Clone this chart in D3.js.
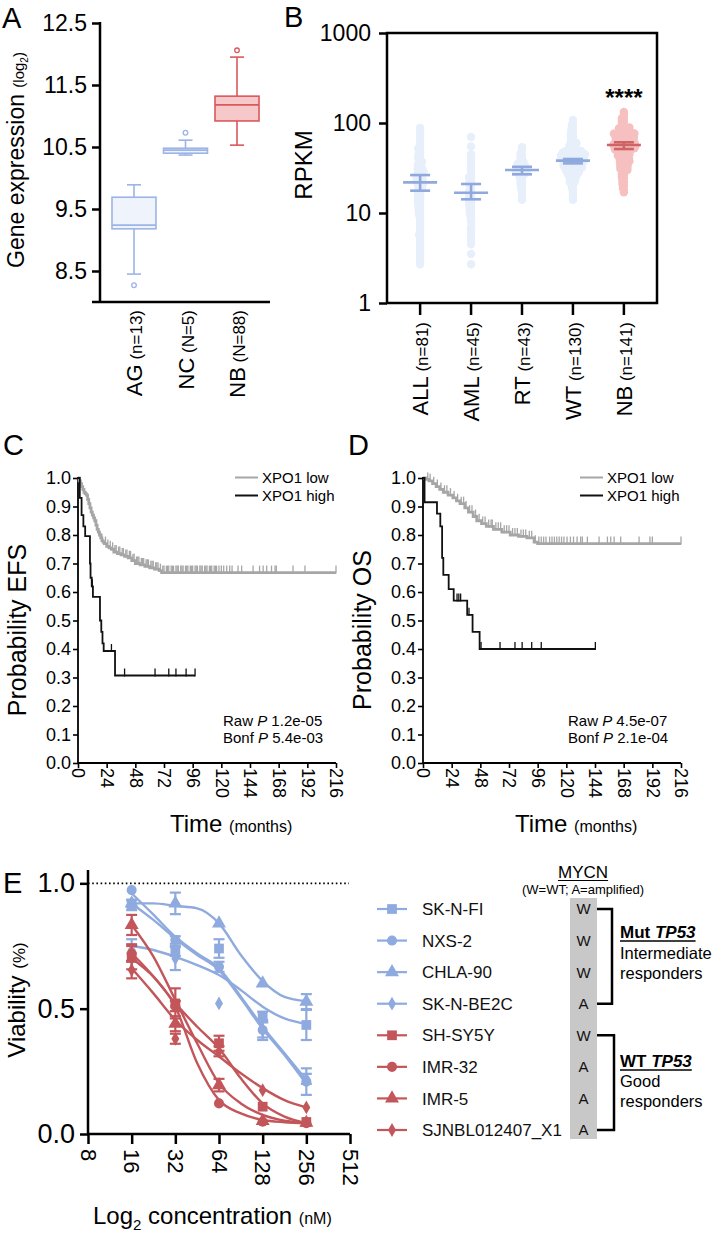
<!DOCTYPE html>
<html><head><meta charset="utf-8">
<script src="https://cdn.jsdelivr.net/npm/d3@7"></script>
<style>body{margin:0;background:#fff}svg{display:block}</style>
</head><body><svg id="c" width="719" height="1235"></svg>
<script>
// ================= DATA =================
// Panel A – box plots (log2 gene expression)
const aCats = ["AG", "NC", "NB"];
const aN = ["(n=13)", "(N=5)", "(N=88)"];
const aWhiskLow = [8.45, 10.37, 10.53];
const aQ1 = [9.18, 10.40, 10.92];
const aMedian = [9.24, 10.45, 11.18];
const aQ3 = [9.69, 10.48, 11.32];
const aWhiskHigh = [9.89, 10.61, 11.95];
const aOutliers = [[8.27], [10.73], [12.06]];
const aTicks = [8.5, 9.5, 10.5, 11.5, 12.5];

// Panel B – RPKM scatter
const bCats = ["ALL", "AML", "RT", "WT", "NB"];
const bN = ["(n=81)", "(n=45)", "(n=43)", "(n=130)", "(n=141)"];
const bMean = [21.9, 16.8, 30.0, 38.2, 57];
const bSemLow = [17.7, 14.2, 26.9, 35.6, 51.4];
const bSemHigh = [26.4, 21.0, 32.6, 39.8, 61];
const bTicks = [1, 10, 100, 1000];
const bALL = [88,80,72,65,60,56,52,50,47,45,43,41,40,38,37,36,35,34,33,32,31,30,29,28,27,26,25.5,25,24,23.5,23,22,21.5,21,20,19.5,19,18.5,18,17,16.5,16,15,14.5,14,13,12.5,12,11.5,11,10.5,10,9.5,9,8.5,8,7.5,7,6.5,6,5.7,5.4,5,4.7,4.4,4.1,3.8,3.5,3.3,3.1,2.9,2.7,26.5,24.5,22.5,20.5,17.5,15.5,13.5,28.5,30.5];
const bAML = [70,55,45,40,36,33,30,28,26,25,24,22,21,20,19,18,17.5,17,16.5,16,15.5,15,14.5,14,13.5,13,12.5,12,11.5,11,10.5,10,9.5,9,8.5,8,7,6.5,6,5.5,5,4.5,3.5,2.7,23];
const bRT = [54,50,46,44,42,40,38,37,36,35,34,33,32.5,32,31.5,31,30.5,30,29.5,29,28.5,28,27.5,27,26.5,26,25,24,23,22,21,20,19,18,17,16,15,14,33.5,34.5,29.8,28.8,27.8];
const bWT = [108,100,95,90,86,82,78,75,72,70,68,66,64,62,60,59,58,57,56,55,54,53,52,51,50,49.5,49,48.5,48,47.5,47,46.5,46,45.5,45,44.5,44,43.5,43,42.5,42,41.5,41,40.5,40,39.5,39,38.5,38,37.5,37,36.5,36,35.5,35,34.5,34,33.5,33,32.5,32,31.5,31,30.5,30,29.5,29,28.5,28,27.5,27,26.5,26,25.5,25,24,23,22,21,20,19,18,17,16,15,14,48.2,46.2,44.2,42.2,40.2,38.2,36.2,34.2,32.2,30.2,28.2,26.2,47.2,45.2,43.2,41.2,39.2,37.2,35.2,33.2,31.2,29.2,27.2,38.8,36.8,34.8,32.8,40.8,42.8,44.8,30.8,28.8,46.8,35.8,37.8,39.8,33.8,31.8,41.8,43.8,24.5,23.5,22.5,21.5];
const bNB = [133,125,118,112,108,104,100,97,94,91,88,86,84,82,80,78,76,75,74,73,72,71,70,69,68,67,66,65,64,63,62,61,60,59.5,59,58.5,58,57.5,57,56.5,56,55.5,55,54.5,54,53.5,53,52.5,52,51.5,51,50.5,50,49,48,47,46,45,44,43,42,41,40,39,38,37,36,35,34,33,32,31,30,29,28,27,26,25,24,23,22,21,20,19,18,17,89,87,85,83,81,79,77,75.5,73.5,71.5,69.5,67.5,65.5,63.5,61.5,60.5,59.2,58.2,57.2,56.2,55.2,54.2,53.2,52.2,51.2,50.2,49.5,48.5,47.5,46.5,45.5,44.5,43.5,42.5,41.5,40.5,39.5,38.5,37.5,36.5,66.5,64.5,62.5,68.5,70.5,72.5,74.5,76.5,35.5,34.5,33.5,32.5,31.5,30.5,29.5];
const bValues = [bALL, bAML, bRT, bWT, bNB];

// Panels C / D – Kaplan-Meier
const kmXTicks = [0, 24, 48, 72, 96, 120, 144, 168, 192, 216];
const kmYTicks = [0, 0.1, 0.2, 0.3, 0.4, 0.5, 0.6, 0.7, 0.8, 0.9, 1.0];
const cLowT = [0,1,2,3,4,5,6,7,8,9,10,11,12,13,14,15,16,17,18,19,20,21,22,24,26,28,30,33,36,39,42,45,48,52,56,60,64,68,70];
const cLowS = [1.0,0.99,0.98,0.97,0.96,0.95,0.945,0.94,0.925,0.91,0.895,0.88,0.87,0.86,0.85,0.835,0.82,0.81,0.80,0.79,0.78,0.775,0.77,0.76,0.755,0.75,0.74,0.735,0.73,0.725,0.72,0.71,0.70,0.695,0.69,0.685,0.68,0.675,0.668];
const cLowEnd = 216;
const cLowCens = [20,23,25,27,29,31,32,34,35,37,38,40,41,43,44,46,47,49,50,51,53,54,55,57,58,59,61,62,63,65,66,67,69,71,72,74,75,76,78,79,80,82,83,84,86,87,88,90,91,92,94,95,96,98,99,100,102,103,104,106,107,108,110,111,112,114,115,116,118,120,122,124.5,127,129,134,137,146.6,152,155,158,162,165,166,180,190,216];
const cHighT = [0,1.5,3,4.5,6,10,10.5,11.5,12.5,18.4,19.5,20.5,21.5,31];
const cHighS = [1.0,0.93,0.87,0.83,0.796,0.70,0.65,0.62,0.583,0.50,0.46,0.42,0.393,0.307];
const cHighEnd = 98;
const cHighCens = [12,28,39,64.5,76,82,90.5,98];
const cP = ["1.2e-05", "5.4e-03"];

const dLowT = [0,3,5,8,11,14,17,21,25,28,31,35,38,42,45,49,53,59,66,73,80,87,93,96];
const dLowS = [1.0,0.995,0.99,0.98,0.97,0.96,0.95,0.94,0.93,0.92,0.91,0.895,0.88,0.865,0.85,0.84,0.83,0.82,0.81,0.80,0.795,0.79,0.775,0.77];
const dLowEnd = 216;
const dLowCens = [4,6,9,12,15,18,20,23,26,29,32,34,36,39,41,44,47,50,52,55,57,58,61,63,65,68,70,72,75,77,79,82,84,86,89,91,94,97,99,101,103,106,108,110,112,114,116,118,120.6,123.4,126,129,132,133.4,137.6,147.4,154.4,157.2,160,165.5,180.9,190,192,216];
const dHighT = [0,1.3,11.7,14.5,16,17,21.5,25.7,37,41.5,47.4];
const dHighS = [1.0,0.915,0.875,0.83,0.72,0.66,0.61,0.57,0.52,0.46,0.40];
const dHighEnd = 144.3;
const dHighCens = [28.5,30,31.5,38.5,48.6,64.5,77,83,91,99,144.3];
const dP = ["4.5e-07", "2.1e-04"];

// Panel E – dose response
const eConc = [16, 32, 64, 128, 256];
const eCurveConc = [16, 22.6, 32, 45.3, 64, 90.5, 128, 181, 256];
const eXTicks = [8, 16, 32, 64, 128, 256, 512];
const eYTicks = [0, 0.5, 1.0];
const eLines = ["SK-N-FI", "NXS-2", "CHLA-90", "SK-N-BE2C", "SH-SY5Y", "IMR-32", "IMR-5", "SJNBL012407_X1"];
const eShapes = ["square", "circle", "triangle", "diamond", "square", "circle", "triangle", "diamond"];
const eGroup = ["mut", "mut", "mut", "mut", "wt", "wt", "wt", "wt"];
const eMycn = ["W", "W", "W", "A", "W", "A", "A", "A"];
const eMean = [
  [0.913, 0.73, 0.74, 0.468, 0.435],
  [0.973, 0.774, 0.667, 0.415, 0.209],
  [0.92, 0.92, 0.84, 0.601, 0.528],
  [0.734, 0.70, 0.521, 0.415, 0.22],
  [0.707, 0.521, 0.362, 0.109, 0.048],
  [0.72, 0.51, 0.122, 0.049, 0.043],
  [0.834, 0.44, 0.195, 0.052, 0.045],
  [0.654, 0.38, 0.33, 0.175, 0.106]
];
const eSem = [
  [0.02, 0.02, 0.037, 0.02, 0.06],
  [0.01, 0.015, 0.02, 0.04, 0.053],
  [0.015, 0.043, 0.01, 0.01, 0.03],
  [0.043, 0.046, 0.01, 0.03, 0.02],
  [0.05, 0.06, 0.03, 0.01, 0.01],
  [0.03, 0.02, 0.01, 0.01, 0.01],
  [0.04, 0.03, 0.025, 0.01, 0.01],
  [0.033, 0.02, 0.02, 0.01, 0.01]
];
const eCurve = [
  [0.75, 0.734, 0.707, 0.674, 0.634, 0.574, 0.508, 0.461, 0.439],
  [0.96, 0.875, 0.787, 0.72, 0.661, 0.548, 0.428, 0.322, 0.215],
  [0.92, 0.92, 0.91, 0.90, 0.84, 0.714, 0.61, 0.547, 0.53],
  [0.92, 0.854, 0.78, 0.714, 0.654, 0.541, 0.42, 0.315, 0.20],
  [0.701, 0.628, 0.521, 0.428, 0.342, 0.222, 0.122, 0.069, 0.043],
  [0.721, 0.628, 0.508, 0.282, 0.135, 0.082, 0.056, 0.047, 0.043],
  [0.834, 0.708, 0.535, 0.361, 0.202, 0.122, 0.076, 0.053, 0.045],
  [0.661, 0.561, 0.455, 0.375, 0.309, 0.242, 0.183, 0.135, 0.106]
];

// ================= DRAWING =================
const FONT = '"Liberation Sans", Arial, Helvetica, sans-serif';
const svg = d3.select("#c").attr("font-family", FONT);
const BLUE_BOX = "#9cb4e6", BLUE_FILL = "#eef3fc", RED_BOX = "#d9585c", RED_FILL = "#f7c8c9";
const CLOUD_BLUE = "#e7effa", CLOUD_RED = "#f6c0c1", BAR_BLUE = "#8fa8de", BAR_RED = "#cf6467";
const E_BLUE = "#8eaade", E_RED = "#c3565a";

function styleAxis(g, size, w) {
  g.attr("font-family", FONT).attr("font-size", size);
  g.select(".domain").remove();
  g.selectAll(".tick line").attr("stroke", "#000").attr("stroke-width", w);
  g.selectAll(".tick text").attr("fill", "#000");
}
function letter(x, y, t) {
  svg.append("text").attr("x", x).attr("y", y).attr("font-size", 29).text(t);
}

// ---------- Panel A ----------
letter(2, 28, "A");
const aX = d3.scalePoint().domain(aCats).range([100, 271]).padding(0.66);
const aY = d3.scaleLinear().domain([8, 12.5]).range([302, 23]);
const gA = svg.append("g");
const aAx = gA.append("g").attr("transform", "translate(100,0)")
  .call(d3.axisLeft(aY).tickValues(aTicks).tickSize(8).tickFormat(d3.format(".1f")));
styleAxis(aAx, 23, 2.5);
aAx.selectAll(".tick text").attr("x", -13);
gA.append("line").attr("x1", 100).attr("x2", 100).attr("y1", 22).attr("y2", 302).attr("stroke", "#000").attr("stroke-width", 2.5);
gA.append("line").attr("x1", 92).attr("x2", 270).attr("y1", 302).attr("y2", 302).attr("stroke", "#000").attr("stroke-width", 2.5);
aCats.forEach((c, i) => {
  const cx = aX(c), col = i < 2 ? BLUE_BOX : RED_BOX, fill = i < 2 ? BLUE_FILL : RED_FILL;
  const g = gA.append("g").attr("stroke", col).attr("stroke-width", 1.6);
  g.append("line").attr("x1", cx).attr("x2", cx).attr("y1", aY(aQ3[i])).attr("y2", aY(aWhiskHigh[i]));
  g.append("line").attr("x1", cx).attr("x2", cx).attr("y1", aY(aQ1[i])).attr("y2", aY(aWhiskLow[i]));
  g.append("line").attr("x1", cx - 7).attr("x2", cx + 7).attr("y1", aY(aWhiskHigh[i])).attr("y2", aY(aWhiskHigh[i]));
  g.append("line").attr("x1", cx - 7).attr("x2", cx + 7).attr("y1", aY(aWhiskLow[i])).attr("y2", aY(aWhiskLow[i]));
  g.append("rect").attr("x", cx - 22).attr("width", 44).attr("y", aY(aQ3[i])).attr("height", aY(aQ1[i]) - aY(aQ3[i])).attr("fill", fill);
  g.append("line").attr("x1", cx - 22).attr("x2", cx + 22).attr("y1", aY(aMedian[i])).attr("y2", aY(aMedian[i]));
  aOutliers[i].forEach(o => g.append("circle").attr("cx", cx).attr("cy", aY(o)).attr("r", 2.3).attr("fill", "#fff").attr("stroke-width", 1.3));
  const t = gA.append("text").attr("transform", `translate(${cx + 8},310) rotate(-90)`).attr("text-anchor", "end");
  t.append("tspan").attr("font-size", 22).text(c);
  t.append("tspan").attr("font-size", 17).text(" " + aN[i]);
});
{
  const t = gA.append("text").attr("transform", "translate(24,160) rotate(-90)").attr("text-anchor", "middle");
  t.append("tspan").attr("font-size", 23).text("Gene expression ");
  t.append("tspan").attr("font-size", 15).text("(log");
  t.append("tspan").attr("font-size", 10).attr("dy", 4).text("2");
  t.append("tspan").attr("font-size", 15).attr("dy", -4).text(")");
}

// ---------- Panel B ----------
letter(284, 27, "B");
const bX = d3.scalePoint().domain(bCats).range([387, 657]).padding(0.65);
const bY = d3.scaleLog().domain([1, 1000]).range([303, 33]);
const gB = svg.append("g");
function swarm(vals, cx, d) {
  const sorted = vals.slice().sort((a, b) => a - b);
  const placed = [];
  for (const v of sorted) {
    const py = bY(v);
    let px = cx;
    for (let k = 0; k < 400; k++) {
      const off = (k % 2 === 0 ? 1 : -1) * Math.ceil(k / 2) * 0.5;
      const cand = cx + off;
      if (placed.every(p => (p[0] - cand) ** 2 + (p[1] - py) ** 2 >= d * d)) { px = cand; break; }
    }
    placed.push([px, py]);
  }
  return placed;
}
bCats.forEach((c, i) => {
  const pts = swarm(bValues[i], bX(c), 2.2);
  gB.append("g").selectAll("circle").data(pts).join("circle")
    .attr("cx", d => d[0]).attr("cy", d => d[1]).attr("r", 4.2)
    .attr("fill", i === 4 ? CLOUD_RED : CLOUD_BLUE);
});
bCats.forEach((c, i) => {
  const cx = bX(c), col = i === 4 ? BAR_RED : BAR_BLUE;
  const g = gB.append("g").attr("stroke", col).attr("stroke-width", 2.6);
  g.append("line").attr("x1", cx).attr("x2", cx).attr("y1", bY(bSemLow[i])).attr("y2", bY(bSemHigh[i]));
  g.append("line").attr("x1", cx - 10).attr("x2", cx + 10).attr("y1", bY(bSemLow[i])).attr("y2", bY(bSemLow[i]));
  g.append("line").attr("x1", cx - 10).attr("x2", cx + 10).attr("y1", bY(bSemHigh[i])).attr("y2", bY(bSemHigh[i]));
  g.append("line").attr("x1", cx - 17).attr("x2", cx + 17).attr("y1", bY(bMean[i])).attr("y2", bY(bMean[i]));
  gB.append("line").attr("x1", cx).attr("x2", cx).attr("y1", 303).attr("y2", 315).attr("stroke", "#000").attr("stroke-width", 2.5);
  const t = gB.append("text").attr("transform", `translate(${cx + 8},322) rotate(-90)`).attr("text-anchor", "end");
  t.append("tspan").attr("font-size", 22).text(c);
  t.append("tspan").attr("font-size", 17).text(" " + bN[i]);
});
gB.append("rect").attr("x", 387).attr("y", 33).attr("width", 270).attr("height", 270).attr("fill", "none").attr("stroke", "#000").attr("stroke-width", 2.5);
const bAx = gB.append("g").attr("transform", "translate(387,0)")
  .call(d3.axisLeft(bY).tickValues(bTicks).tickSize(8).tickFormat(d3.format("d")));
styleAxis(bAx, 23, 2.5);
bAx.selectAll(".tick text").attr("x", -16);
gB.append("text").attr("x", bX("NB")).attr("y", 106).attr("text-anchor", "middle").attr("font-size", 24).attr("font-weight", "bold").text("****");
gB.append("text").attr("transform", "translate(312,165) rotate(-90)").attr("text-anchor", "middle").attr("font-size", 24).text("RPKM");

// ---------- Panels C & D ----------
function survAt(T, S, t) { let s = S[0]; for (let i = 0; i < T.length; i++) if (T[i] <= t) s = S[i]; return s; }
function drawKM(o) {
  const g = svg.append("g");
  const x = d3.scaleLinear().domain([0, 216]).range([o.x0, o.x0 + 258]);
  const y = d3.scaleLinear().domain([0, 1]).range([763, 478]);
  const yAx = g.append("g").attr("transform", `translate(${o.x0},0)`)
    .call(d3.axisLeft(y).tickValues(kmYTicks).tickSize(5).tickFormat(d3.format(".1f")));
  styleAxis(yAx, 18, 1.6);
  yAx.selectAll(".tick text").attr("x", -7);
  const xAx = g.append("g").attr("transform", "translate(0,763)")
    .call(d3.axisBottom(x).tickValues(kmXTicks).tickSize(5).tickFormat(d3.format("d")));
  styleAxis(xAx, 18, 1.6);
  xAx.selectAll(".tick text").attr("transform", "rotate(90)").attr("x", 5).attr("y", 0).attr("dy", "0.35em").attr("text-anchor", "start");
  g.append("line").attr("x1", o.x0).attr("x2", o.x0).attr("y1", 477).attr("y2", 763).attr("stroke", "#000").attr("stroke-width", 1.8);
  g.append("line").attr("x1", o.x0).attr("x2", o.x0 + 258).attr("y1", 763).attr("y2", 763).attr("stroke", "#000").attr("stroke-width", 1.8);
  const line = d3.line().x(d => x(d[0])).y(d => y(d[1])).curve(d3.curveStepAfter);
  [[o.lowT, o.lowS, o.lowEnd, o.lowCens, "#a6a6a6", 2.8], [o.highT, o.highS, o.highEnd, o.highCens, "#111", 1.8]].forEach(([T, S, end, cens, col, w]) => {
    const pts = T.map((t, i) => [t, S[i]]); pts.push([end, S[S.length - 1]]);
    g.append("path").attr("d", line(pts)).attr("fill", "none").attr("stroke", col).attr("stroke-width", w);
    g.append("g").selectAll("line").data(cens).join("line")
      .attr("x1", d => x(d)).attr("x2", d => x(d))
      .attr("y1", d => y(survAt(T, S, d)) - 7).attr("y2", d => y(survAt(T, S, d)) + 1)
      .attr("stroke", col).attr("stroke-width", 1.3);
  });
  // legend
  const lx = o.x0 + o.legDx;
  g.append("line").attr("x1", lx).attr("x2", lx + 23).attr("y1", 477.5).attr("y2", 477.5).attr("stroke", "#a6a6a6").attr("stroke-width", 2);
  g.append("line").attr("x1", lx).attr("x2", lx + 23).attr("y1", 495.5).attr("y2", 495.5).attr("stroke", "#111").attr("stroke-width", 2);
  g.append("text").attr("x", lx + 27).attr("y", 483).attr("font-size", 15).text("XPO1 low");
  g.append("text").attr("x", lx + 27).attr("y", 501).attr("font-size", 15).text("XPO1 high");
  // p-values
  const px = o.x0 + o.pDx;
  [["Raw ", o.p[0], 726], ["Bonf ", o.p[1], 743]].forEach(([a, b, yy]) => {
    const t = g.append("text").attr("x", px).attr("y", yy).attr("font-size", 15);
    t.append("tspan").text(a);
    t.append("tspan").attr("font-style", "italic").text("P");
    t.append("tspan").text(" " + b);
  });
  g.append("text").attr("transform", `translate(${o.x0 - 52},630) rotate(-90)`).attr("text-anchor", "middle").attr("font-size", 25).text(o.ylab);
  const tt = g.append("text").attr("x", o.x0 + 92).attr("y", 832);
  tt.append("tspan").attr("font-size", 24).text("Time ");
  tt.append("tspan").attr("font-size", 16).text("(months)");
}
letter(3, 455, "C");
letter(348, 455, "D");
drawKM({ x0: 78, lowT: cLowT, lowS: cLowS, lowEnd: cLowEnd, lowCens: cLowCens, highT: cHighT, highS: cHighS, highEnd: cHighEnd, highCens: cHighCens, p: cP, ylab: "Probability EFS", legDx: 157, pDx: 145 });
drawKM({ x0: 423, lowT: dLowT, lowS: dLowS, lowEnd: dLowEnd, lowCens: dLowCens, highT: dHighT, highS: dHighS, highEnd: dHighEnd, highCens: dHighCens, p: dP, ylab: "Probability OS", legDx: 157, pDx: 145 });

// ---------- Panel E ----------
letter(3, 893, "E");
const eX = d3.scaleLog().base(2).domain([8, 512]).range([88, 350]);
const eY = d3.scaleLinear().domain([0, 1.05]).range([1134, 870.8]);
const gE = svg.append("g");
const eyAx = gE.append("g").attr("transform", "translate(88,0)")
  .call(d3.axisLeft(eY).tickValues(eYTicks).tickSize(8).tickFormat(d3.format(".1f")));
styleAxis(eyAx, 27, 2.5);
eyAx.selectAll(".tick text").attr("x", -13);
const exAx = gE.append("g").attr("transform", "translate(0,1134)")
  .call(d3.axisBottom(eX).tickValues(eXTicks).tickSize(10).tickFormat(d3.format("d")));
styleAxis(exAx, 22, 2.5);
exAx.selectAll(".tick text").attr("transform", "rotate(90)").attr("x", 15).attr("y", 0).attr("dy", "0.35em").attr("text-anchor", "start");
gE.append("line").attr("x1", 88).attr("x2", 88).attr("y1", 870).attr("y2", 1135).attr("stroke", "#000").attr("stroke-width", 2.5);
gE.append("line").attr("x1", 87).attr("x2", 350).attr("y1", 1134).attr("y2", 1134).attr("stroke", "#000").attr("stroke-width", 2.5);
gE.append("line").attr("x1", 88).attr("x2", 349).attr("y1", eY(1)).attr("y2", eY(1)).attr("stroke", "#000").attr("stroke-width", 1.6).attr("stroke-dasharray", "1.6,2.6");
const symType = { square: d3.symbolSquare, circle: d3.symbolCircle, triangle: d3.symbolTriangle, diamond: d3.symbolDiamond };
const symSize = { square: 95, circle: 80, triangle: 85, diamond: 55 };
const eLine = d3.line().x(d => eX(d[0])).y(d => eY(d[1])).curve(d3.curveMonotoneX);
eLines.forEach((name, i) => {
  const col = eGroup[i] === "mut" ? E_BLUE : E_RED;
  const g = gE.append("g");
  g.append("path").attr("d", eLine(eCurveConc.map((c, j) => [c, eCurve[i][j]]))).attr("fill", "none").attr("stroke", col).attr("stroke-width", 2.4);
  eConc.forEach((c, j) => {
    const m = eMean[i][j], s = eSem[i][j], cx = eX(c);
    if (s > 0.012) {
      g.append("line").attr("x1", cx).attr("x2", cx).attr("y1", eY(m - s)).attr("y2", eY(m + s)).attr("stroke", col).attr("stroke-width", 2.2);
      g.append("line").attr("x1", cx - 5.5).attr("x2", cx + 5.5).attr("y1", eY(m - s)).attr("y2", eY(m - s)).attr("stroke", col).attr("stroke-width", 2.2);
      g.append("line").attr("x1", cx - 5.5).attr("x2", cx + 5.5).attr("y1", eY(m + s)).attr("y2", eY(m + s)).attr("stroke", col).attr("stroke-width", 2.2);
    }
    g.append("path").attr("d", d3.symbol().type(symType[eShapes[i]]).size(symSize[eShapes[i]])())
      .attr("transform", `translate(${cx},${eY(m)})`).attr("fill", col);
  });
});
{
  const t = gE.append("text").attr("x", 93).attr("y", 1224);
  t.append("tspan").attr("font-size", 24).text("Log");
  t.append("tspan").attr("font-size", 15).attr("dy", 6).text("2");
  t.append("tspan").attr("font-size", 24).attr("dy", -6).text(" concentration ");
  t.append("tspan").attr("font-size", 16).text("(nM)");
  const v = gE.append("text").attr("transform", "translate(25,1000) rotate(-90)").attr("text-anchor", "middle");
  v.append("tspan").attr("font-size", 24).text("Viability ");
  v.append("tspan").attr("font-size", 17).text("(%)");
}
// legend + MYCN column
const legY = d3.scalePoint().domain(eLines).range([909, 1130]);
gE.append("rect").attr("x", 570).attr("y", 898).attr("width", 27).attr("height", 241).attr("fill", "#c8c8c8");
eLines.forEach((name, i) => {
  const col = eGroup[i] === "mut" ? E_BLUE : E_RED, yy = legY(name);
  gE.append("line").attr("x1", 377).attr("x2", 407).attr("y1", yy).attr("y2", yy).attr("stroke", col).attr("stroke-width", 2.2);
  gE.append("path").attr("d", d3.symbol().type(symType[eShapes[i]]).size(symSize[eShapes[i]])())
    .attr("transform", `translate(392,${yy})`).attr("fill", col);
  gE.append("text").attr("x", 422).attr("y", yy).attr("dy", "0.36em").attr("font-size", 17).attr("fill", "#111").text(name);
  gE.append("text").attr("x", 583.5).attr("y", yy).attr("dy", "0.36em").attr("text-anchor", "middle").attr("font-size", 15).attr("fill", "#111").text(eMycn[i]);
});
{
  const my = gE.append("text").attr("x", 583).attr("y", 878).attr("text-anchor", "middle").attr("font-size", 17).text("MYCN");
  const w = my.node().getComputedTextLength();
  gE.append("line").attr("x1", 583 - w / 2).attr("x2", 583 + w / 2).attr("y1", 880.5).attr("y2", 880.5).attr("stroke", "#000").attr("stroke-width", 1.2);
  gE.append("text").attr("x", 583).attr("y", 894).attr("text-anchor", "middle").attr("font-size", 13).text("(W=WT; A=amplified)");
  const br = (y1, y2, xr) => gE.append("path").attr("d", `M597,${y1}H${xr}V${y2}H597`).attr("fill", "none").attr("stroke", "#000").attr("stroke-width", 2.5);
  br(legY(eLines[0]), legY(eLines[3]), 612);
  br(legY(eLines[4]), legY(eLines[7]), 614);
  const head = (yy, a) => {
    const t = gE.append("text").attr("x", 620).attr("y", yy).attr("font-size", 17).attr("font-weight", "bold");
    t.append("tspan").text(a + " ");
    t.append("tspan").attr("font-style", "italic").text("TP53");
    const w2 = t.node().getComputedTextLength();
    gE.append("line").attr("x1", 620).attr("x2", 620 + w2).attr("y1", yy + 3).attr("y2", yy + 3).attr("stroke", "#000").attr("stroke-width", 1.5);
  };
  head(938, "Mut");
  gE.append("text").attr("x", 620).attr("y", 959).attr("font-size", 16.5).text("Intermediate");
  gE.append("text").attr("x", 620).attr("y", 979).attr("font-size", 16.5).text("responders");
  head(1067, "WT");
  gE.append("text").attr("x", 620).attr("y", 1087).attr("font-size", 16.5).text("Good");
  gE.append("text").attr("x", 620).attr("y", 1107).attr("font-size", 16.5).text("responders");
}
</script></body></html>
